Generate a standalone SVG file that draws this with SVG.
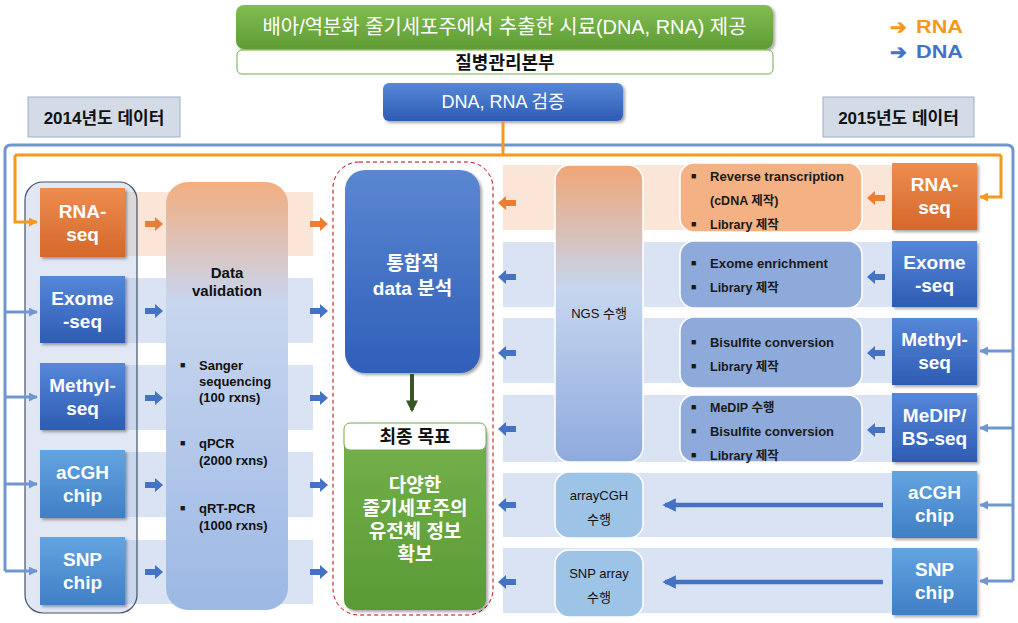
<svg xmlns="http://www.w3.org/2000/svg" width="1018" height="623" viewBox="0 0 1018 623">
<defs>
<style>
text{font-family:"Liberation Sans","Noto Sans CJK KR",sans-serif;}
.wb{fill:#fff;font-weight:bold;font-size:19px;text-anchor:middle;}
.kb{fill:#111;font-weight:bold;}
.det{fill:#1a1a1a;font-weight:bold;font-size:12.5px;}
.dv{fill:#111;font-weight:bold;font-size:13px;}
.bul{fill:#1a1a1a;font-size:9px;}
.mid{fill:#111;font-size:13px;text-anchor:middle;}
.bandO{fill:#f8cbad;opacity:0.5;}
.bandB{fill:#b4c7e7;opacity:0.5;}
.frame{fill:none;stroke:#7096d2;stroke-width:3;}
.oline{fill:none;stroke:#f39a1c;stroke-width:3;}
</style>
<linearGradient id="gGreen" x1="0" y1="0" x2="0" y2="1"><stop offset="0" stop-color="#82bd52"/><stop offset="1" stop-color="#5e9c34"/></linearGradient>
<linearGradient id="gBlue" x1="0" y1="0" x2="0" y2="1"><stop offset="0" stop-color="#5687d8"/><stop offset="1" stop-color="#2e5cb4"/></linearGradient>
<linearGradient id="gLight" x1="0" y1="0" x2="0" y2="1"><stop offset="0" stop-color="#64a4e0"/><stop offset="1" stop-color="#3f7fc5"/></linearGradient>
<linearGradient id="gOrange" x1="0" y1="0" x2="0" y2="1"><stop offset="0" stop-color="#ee8c50"/><stop offset="1" stop-color="#d4682a"/></linearGradient>
<linearGradient id="gDV" x1="0" y1="0" x2="0" y2="1"><stop offset="0" stop-color="#f2ae80"/><stop offset="0.28" stop-color="#c8d6ef"/><stop offset="1" stop-color="#9cb8e4"/></linearGradient>
<linearGradient id="gNGS" x1="0" y1="0" x2="0" y2="1"><stop offset="0" stop-color="#f0a676"/><stop offset="0.42" stop-color="#c6d6f0"/><stop offset="1" stop-color="#8eaadd"/></linearGradient>
<linearGradient id="gInteg" x1="0" y1="0" x2="0" y2="1"><stop offset="0" stop-color="#5b87d1"/><stop offset="1" stop-color="#2f5fb9"/></linearGradient>
<linearGradient id="gGoal" x1="0" y1="0" x2="0" y2="1"><stop offset="0" stop-color="#76b24c"/><stop offset="1" stop-color="#5a9a35"/></linearGradient>
<filter id="sh" x="-10%" y="-10%" width="130%" height="130%"><feDropShadow dx="2" dy="2" stdDeviation="1.5" flood-color="#000" flood-opacity="0.35"/></filter>
<path id="aR" d="M-9,-3H1V-7L9,0L1,7V3H-9Z"/>
<path id="aL" d="M9,-3H-1V-7L-9,0L-1,7V3H9Z"/>
<marker id="mB" viewBox="0 0 10 10" refX="9" refY="5" markerWidth="3" markerHeight="3" orient="auto"><path d="M0,0L10,5L0,10Z" fill="#7096d2"/></marker>
<marker id="mO" viewBox="0 0 10 10" refX="9" refY="5" markerWidth="3" markerHeight="3" orient="auto"><path d="M0,0L10,5L0,10Z" fill="#f39a1c"/></marker>
<marker id="mL" viewBox="0 0 10 10" refX="8" refY="5" markerWidth="3" markerHeight="3" orient="auto"><path d="M0,0L10,5L0,10Z" fill="#4472c4"/></marker>
<marker id="mG" viewBox="0 0 10 10" refX="8" refY="5" markerWidth="3" markerHeight="3" orient="auto"><path d="M0,0L10,5L0,10Z" fill="#375623"/></marker>
</defs>
<rect width="1018" height="623" fill="#fff"/>

<!-- header -->
<g id="source">
<rect x="236" y="5" width="537" height="44" rx="8" fill="url(#gGreen)" filter="url(#sh)"/>
<text x="504.5" y="34" fill="#fff" font-size="20" text-anchor="middle" textLength="484" lengthAdjust="spacingAndGlyphs">배아/역분화 줄기세포주에서 추출한 시료(DNA, RNA) 제공</text>
</g>
<g id="kcdc">
<rect x="237" y="50" width="536" height="24" rx="5" fill="#fff" stroke="#70ad47" stroke-width="1"/>
<text class="kb" x="505" y="69" font-size="18" text-anchor="middle">질병관리본부</text>
</g>
<g id="verify">
<rect x="383" y="83" width="240" height="38" rx="6" fill="url(#gBlue)" filter="url(#sh)"/>
<text x="503" y="108" fill="#fff" font-size="18" text-anchor="middle">DNA, RNA 검증</text>
</g>
<g id="legend">
<text x="890" y="34" fill="#f39a1c" font-weight="bold" font-size="20" font-family="DejaVu Sans, sans-serif">➔</text>
<text x="916" y="33" fill="#f39a1c" font-weight="bold" font-size="18" textLength="47" lengthAdjust="spacingAndGlyphs">RNA</text>
<text x="890" y="59" fill="#4472c4" font-weight="bold" font-size="20" font-family="DejaVu Sans, sans-serif">➔</text>
<text x="916" y="58" fill="#4472c4" font-weight="bold" font-size="18" textLength="47" lengthAdjust="spacingAndGlyphs">DNA</text>
</g>
<g id="y2014">
<rect x="28" y="97" width="152" height="40" fill="#d3dbe6" stroke="#9fb0c8" stroke-width="1"/>
<text class="kb" x="104" y="124" font-size="17" text-anchor="middle">2014년도 데이터</text>
</g>
<g id="y2015">
<rect x="823" y="97" width="151" height="40" fill="#d3dbe6" stroke="#9fb0c8" stroke-width="1"/>
<text class="kb" x="898.5" y="124" font-size="17" text-anchor="middle">2015년도 데이터</text>
</g>

<!-- bands -->
<g id="bands">
<rect class="bandO" x="40" y="192" width="273" height="64"/>
<rect class="bandB" x="40" y="278" width="273" height="65"/>
<rect class="bandB" x="40" y="365" width="273" height="65"/>
<rect class="bandB" x="40" y="452" width="273" height="65"/>
<rect class="bandB" x="40" y="540" width="273" height="64"/>
<rect class="bandO" x="503" y="165" width="389" height="65"/>
<rect class="bandB" x="503" y="242" width="389" height="65"/>
<rect class="bandB" x="503" y="318" width="389" height="65"/>
<rect class="bandB" x="503" y="395" width="389" height="67"/>
<rect class="bandB" x="503" y="473" width="389" height="64"/>
<rect class="bandB" x="503" y="548" width="389" height="65"/>
</g>

<!-- left 2014 column -->
<g id="group2014">
<rect x="25" y="182" width="112" height="431" rx="18" fill="#b4c3e1" fill-opacity="0.4" stroke="#44546a" stroke-width="1.2"/>
</g>
<g id="L-rna">
<rect x="40" y="188" width="85" height="69" fill="url(#gOrange)" filter="url(#sh)"/>
<text class="wb" x="82.5" y="218">RNA-</text><text class="wb" x="82.5" y="241">seq</text>
</g>
<g id="L-exome">
<rect x="40" y="276" width="85" height="67" fill="url(#gBlue)" filter="url(#sh)"/>
<text class="wb" x="82.5" y="305">Exome</text><text class="wb" x="82.5" y="328">-seq</text>
</g>
<g id="L-methyl">
<rect x="40" y="363" width="85" height="67" fill="url(#gBlue)" filter="url(#sh)"/>
<text class="wb" x="82.5" y="392">Methyl-</text><text class="wb" x="82.5" y="415">seq</text>
</g>
<g id="L-acgh">
<rect x="40" y="450" width="85" height="68" fill="url(#gLight)" filter="url(#sh)"/>
<text class="wb" x="82.5" y="479">aCGH</text><text class="wb" x="82.5" y="502">chip</text>
</g>
<g id="L-snp">
<rect x="40" y="537" width="85" height="68" fill="url(#gLight)" filter="url(#sh)"/>
<text class="wb" x="82.5" y="566">SNP</text><text class="wb" x="82.5" y="589">chip</text>
</g>

<g id="validation">
<rect x="166" y="182" width="122" height="428" rx="22" fill="url(#gDV)"/>
<text class="kb" x="227" y="278" font-size="15" text-anchor="middle">Data</text>
<text class="kb" x="227" y="296" font-size="15" text-anchor="middle">validation</text>
<text class="bul" x="180" y="368">■</text><text class="dv" x="199" y="370">Sanger</text>
<text class="dv" x="199" y="386">sequencing</text>
<text class="dv" x="199" y="402">(100 rxns)</text>
<text class="bul" x="180" y="446">■</text><text class="dv" x="199" y="448">qPCR</text>
<text class="dv" x="199" y="465">(2000 rxns)</text>
<text class="bul" x="180" y="511">■</text><text class="dv" x="199" y="513">qRT-PCR</text>
<text class="dv" x="199" y="530">(1000 rxns)</text>
</g>

<!-- center -->
<g id="target">
<rect x="333" y="162" width="160" height="453" rx="26" fill="none" stroke="#c00000" stroke-width="1" stroke-dasharray="4,3"/>
</g>
<g id="integrated">
<rect x="345" y="170" width="135" height="203" rx="20" fill="url(#gInteg)" filter="url(#sh)"/>
<text class="wb" x="412.5" y="270" font-size="21">통합적</text>
<text class="wb" x="412.5" y="295" font-size="21">data 분석</text>
</g>
<g id="goal">
<rect x="344" y="423" width="142" height="187" rx="10" fill="url(#gGoal)" filter="url(#sh)"/>
<rect x="344" y="423" width="142" height="27" rx="6" fill="#fff" stroke="#70ad47" stroke-width="1"/>
<text class="kb" x="415" y="443" font-size="18" text-anchor="middle">최종 목표</text>
<text class="wb" x="415" y="492" font-size="18.5">다양한</text>
<text class="wb" x="415" y="515" font-size="18.5">줄기세포주의</text>
<text class="wb" x="415" y="538" font-size="18.5">유전체 정보</text>
<text class="wb" x="415" y="561" font-size="18.5">확보</text>
</g>

<!-- right processing -->
<g id="ngs">
<rect x="555" y="165" width="88" height="297" rx="15" fill="url(#gNGS)" stroke="#fff" stroke-width="1.5"/>
<text class="mid" x="599" y="318">NGS 수행</text>
</g>
<g id="arraycgh">
<rect x="555" y="472" width="88" height="66" rx="14" fill="#9dc3e6" stroke="#fff" stroke-width="1.5"/>
<text class="mid" x="599" y="500">arrayCGH</text><text class="mid" x="599" y="524">수행</text>
</g>
<g id="snparray">
<rect x="555" y="550" width="88" height="67" rx="14" fill="#9dc3e6" stroke="#fff" stroke-width="1.5"/>
<text class="mid" x="599" y="578">SNP array</text><text class="mid" x="599" y="602">수행</text>
</g>

<g id="D-rna">
<rect x="680" y="163" width="182" height="69" rx="14" fill="#f4b183" stroke="#fff" stroke-width="1.5"/>
<text class="bul" x="691" y="179">■</text><text class="det" x="710" y="181" textLength="134" lengthAdjust="spacingAndGlyphs">Reverse transcription</text>
<text class="det" x="710" y="205">(cDNA  제작)</text>
<text class="bul" x="691" y="227">■</text><text class="det" x="710" y="229">Library 제작</text>
</g>
<g id="D-exome">
<rect x="680" y="241" width="182" height="67" rx="14" fill="#8eaadb" stroke="#fff" stroke-width="1.5"/>
<text class="bul" x="691" y="266">■</text><text class="det" x="710" y="268" textLength="118" lengthAdjust="spacingAndGlyphs">Exome enrichment</text>
<text class="bul" x="691" y="290">■</text><text class="det" x="710" y="292">Library 제작</text>
</g>
<g id="D-methyl">
<rect x="680" y="317" width="182" height="71" rx="14" fill="#8eaadb" stroke="#fff" stroke-width="1.5"/>
<text class="bul" x="691" y="345">■</text><text class="det" x="710" y="347" textLength="124" lengthAdjust="spacingAndGlyphs">Bisulfite conversion</text>
<text class="bul" x="691" y="369">■</text><text class="det" x="710" y="371">Library 제작</text>
</g>
<g id="D-medip">
<rect x="680" y="395" width="182" height="67" rx="14" fill="#8eaadb" stroke="#fff" stroke-width="1.5"/>
<text class="bul" x="691" y="410">■</text><text class="det" x="710" y="412">MeDIP 수행</text>
<text class="bul" x="691" y="434">■</text><text class="det" x="710" y="436" textLength="124" lengthAdjust="spacingAndGlyphs">Bisulfite conversion</text>
<text class="bul" x="691" y="458">■</text><text class="det" x="710" y="460">Library 제작</text>
</g>

<g id="R-rna">
<rect x="892" y="163" width="85" height="67" fill="url(#gOrange)" filter="url(#sh)"/>
<text class="wb" x="934.5" y="191">RNA-</text><text class="wb" x="934.5" y="214">seq</text>
</g>
<g id="R-exome">
<rect x="892" y="241" width="85" height="66" fill="url(#gBlue)" filter="url(#sh)"/>
<text class="wb" x="934.5" y="269">Exome</text><text class="wb" x="934.5" y="292">-seq</text>
</g>
<g id="R-methyl">
<rect x="892" y="318" width="85" height="67" fill="url(#gBlue)" filter="url(#sh)"/>
<text class="wb" x="934.5" y="346">Methyl-</text><text class="wb" x="934.5" y="369">seq</text>
</g>
<g id="R-medip">
<rect x="892" y="393" width="85" height="69" fill="url(#gBlue)" filter="url(#sh)"/>
<text class="wb" x="934.5" y="422">MeDIP/</text><text class="wb" x="934.5" y="445">BS-seq</text>
</g>
<g id="R-acgh">
<rect x="892" y="471" width="85" height="67" fill="url(#gLight)" filter="url(#sh)"/>
<text class="wb" x="934.5" y="499">aCGH</text><text class="wb" x="934.5" y="522">chip</text>
</g>
<g id="R-snp">
<rect x="892" y="548" width="85" height="67" fill="url(#gLight)" filter="url(#sh)"/>
<text class="wb" x="934.5" y="576">SNP</text><text class="wb" x="934.5" y="599">chip</text>
</g>

<!-- connectors -->
<g id="connectors">
<path class="frame" d="M5,571V151Q5,145 11,145H1007Q1013,145 1013,151V581"/>
<path class="frame" d="M5,312H37" marker-end="url(#mB)"/>
<path class="frame" d="M5,397H37" marker-end="url(#mB)"/>
<path class="frame" d="M5,484H37" marker-end="url(#mB)"/>
<path class="frame" d="M5,571H37" marker-end="url(#mB)"/>
<path class="frame" d="M1013,351H980" marker-end="url(#mB)"/>
<path class="frame" d="M1013,428H980" marker-end="url(#mB)"/>
<path class="frame" d="M1013,505H980" marker-end="url(#mB)"/>
<path class="frame" d="M1013,581H980" marker-end="url(#mB)"/>
<path class="oline" d="M503,121V155"/>
<path class="oline" d="M15,155H1001"/>
<path class="oline" d="M15,155V222H37" marker-end="url(#mO)"/>
<path class="oline" d="M1001,155V197H980" marker-end="url(#mO)"/>
<path d="M412,374V410" stroke="#375623" stroke-width="4" fill="none" marker-end="url(#mG)"/>
<path d="M883,505H665" stroke="#4472c4" stroke-width="4.5" fill="none" marker-end="url(#mL)"/>
<path d="M883,582H665" stroke="#4472c4" stroke-width="4.5" fill="none" marker-end="url(#mL)"/>
<g fill="#ed7d31">
<use href="#aR" x="154" y="224"/><use href="#aR" x="319" y="224"/>
<use href="#aL" x="507" y="203"/><use href="#aL" x="876" y="198"/>
</g>
<g fill="#4472c4">
<use href="#aR" x="154" y="311"/><use href="#aR" x="319" y="311"/>
<use href="#aR" x="154" y="398"/><use href="#aR" x="319" y="398"/>
<use href="#aR" x="154" y="485"/><use href="#aR" x="319" y="485"/>
<use href="#aR" x="154" y="572"/><use href="#aR" x="319" y="572"/>
<use href="#aL" x="507" y="277"/><use href="#aL" x="876" y="277"/>
<use href="#aL" x="507" y="353"/><use href="#aL" x="876" y="353"/>
<use href="#aL" x="507" y="429"/><use href="#aL" x="876" y="430"/>
<use href="#aL" x="507" y="505"/>
<use href="#aL" x="507" y="582"/>
</g>
</g>
</svg>
